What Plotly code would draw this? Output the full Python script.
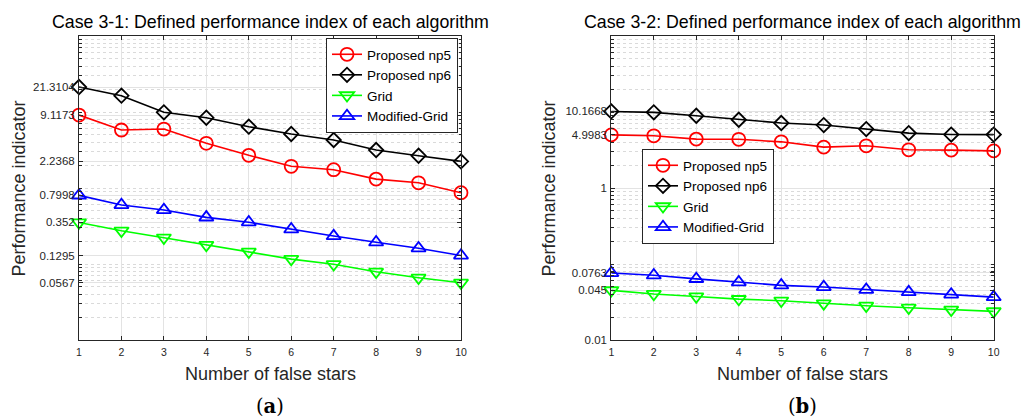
import plotly.graph_objects as go

x_stars = [1, 2, 3, 4, 5, 6, 7, 8, 9, 10]

# Case 3-1 (left)
a_np5 = [9.1173, 5.80, 5.97, 3.87, 2.69, 1.93, 1.74, 1.31, 1.17, 0.867]
a_np6 = [21.3104, 16.4, 9.9, 8.41, 6.41, 5.14, 4.28, 3.16, 2.66, 2.2368]
a_grid = [0.352, 0.274, 0.222, 0.178, 0.145, 0.116, 0.099, 0.079, 0.066, 0.0567]
a_mgrid = [0.7998, 0.597, 0.514, 0.411, 0.354, 0.286, 0.233, 0.193, 0.161, 0.1295]
a_ticks = [0.0567, 0.1295, 0.352, 0.7998, 2.2368, 9.1173, 21.3104]
a_ticktext = ["0.0567", "0.1295", "0.352", "0.7998", "2.2368", "9.1173", "21.3104"]

# Case 3-2 (right)
b_np5 = [4.9983, 4.86, 4.40, 4.37, 4.05, 3.45, 3.59, 3.18, 3.15, 3.08]
b_np6 = [10.1668, 9.9, 8.93, 7.91, 7.16, 6.73, 5.96, 5.28, 5.05, 5.04]
b_grid = [0.045, 0.0403, 0.0374, 0.0345, 0.0329, 0.0303, 0.0282, 0.0266, 0.0250, 0.0238]
b_mgrid = [0.0763, 0.0710, 0.0637, 0.0575, 0.0524, 0.0498, 0.0459, 0.0427, 0.0398, 0.0367]
b_ticks = [0.01, 0.045, 0.0763, 1, 4.9983, 10.1668]
b_ticktext = ["0.01", "0.045", "0.0763", "1", "4.9983", "10.1668"]

names = ["Proposed np5", "Proposed np6", "Grid", "Modified-Grid"]
colors = ["#ff0000", "#000000", "#00ff00", "#0000ff"]
symbols = ["circle-open", "diamond-open", "triangle-down-open", "triangle-up-open"]
sizes = [13, 11, 12.5, 12.5]

minor_vals = [m * 10 ** e for e in range(-2, 2) for m in range(1, 10) if not (m == 1 and e == -2)]

FONT = "Liberation Sans, Arial, sans-serif"
AX = "#262626"

W, H = 1024, 420


def PX(px):
    return px / W


def PY(py):
    return 1 - py / H


fig = go.Figure()

for i, (ya, yb) in enumerate(zip([a_np5, a_np6, a_grid, a_mgrid], [b_np5, b_np6, b_grid, b_mgrid])):
    for ys, xa, ya_ax, leg in [(ya, "x", "y", "legend"), (yb, "x2", "y2", "legend2")]:
        fig.add_trace(go.Scatter(
            x=x_stars, y=ys, xaxis=xa, yaxis=ya_ax, name=names[i], legend=leg,
            mode="lines+markers", cliponaxis=False,
            line=dict(color=colors[i], width=1.6),
            marker=dict(symbol=symbols[i], size=sizes[i], color=colors[i],
                        line=dict(color=colors[i], width=1.8)),
        ))


def xaxis_cfg(x0, x1, anchor):
    return dict(domain=[PX(x0), PX(x1)], anchor=anchor, range=[1, 10], tickvals=x_stars,
                ticks="inside", ticklen=4, tickcolor=AX, showline=True, linecolor=AX,
                linewidth=1, mirror="ticks", showgrid=True, gridcolor="#e3e3e3", gridwidth=1,
                zeroline=False, automargin=False, ticklabelstandoff=2,
                tickfont=dict(family=FONT, size=10.5, color=AX))


def yaxis_cfg(anchor, tv, tt):
    return dict(domain=[PY(340), PY(36)], anchor=anchor, type="log", range=[-2, 2],
                tickvals=tv, ticktext=tt, ticks="inside", ticklen=4, tickcolor=AX,
                showline=True, linecolor=AX, linewidth=1, mirror="ticks",
                showgrid=True, gridcolor="#e3e3e3", gridwidth=1, zeroline=False,
                automargin=False, ticklabelstandoff=1,
                tickfont=dict(family=FONT, size=11.5, color=AX),
                minor=dict(tickmode="array", tickvals=minor_vals, ticks="inside", ticklen=2.5,
                           tickcolor=AX, showgrid=True, gridcolor="#dadada",
                           griddash="dot", gridwidth=1))


def legend_cfg(lx, ty):
    return dict(x=PX(lx), y=PY(ty), xanchor="left", yanchor="top", bgcolor="white",
                bordercolor=AX, borderwidth=1, font=dict(family=FONT, size=13.5, color="#000"),
                tracegroupgap=0, itemwidth=30)


fig.update_layout(
    width=W, height=H, margin=dict(l=0, r=0, t=0, b=0, autoexpand=False),
    paper_bgcolor="white", plot_bgcolor="white",
    font=dict(family=FONT, color=AX),
    xaxis=xaxis_cfg(79, 461, "y"),
    yaxis=yaxis_cfg("x", a_ticks, a_ticktext),
    xaxis2=xaxis_cfg(611.3, 993.7, "y2"),
    yaxis2=yaxis_cfg("x2", b_ticks, b_ticktext),
    legend=legend_cfg(326, 38),
    legend2=legend_cfg(642, 149),
    showlegend=True,
)

annots = []
for cx, title, lab in [(270, "Case 3-1: Defined performance index of each algorithm", "a"),
                       (802.5, "Case 3-2: Defined performance index of each algorithm", "b")]:
    annots.append(dict(x=PX(cx), y=PY(22), xref="paper", yref="paper", text=title,
                       showarrow=False, font=dict(family=FONT, size=17.8, color="#000"),
                       xanchor="center", yanchor="middle"))
    annots.append(dict(x=PX(cx), y=PY(374), xref="paper", yref="paper", text="Number of false stars",
                       showarrow=False, font=dict(family=FONT, size=18, color=AX),
                       xanchor="center", yanchor="middle"))
    annots.append(dict(x=PX(cx), y=PY(406), xref="paper", yref="paper", text="(<b>" + lab + "</b>)",
                       showarrow=False, font=dict(family="DejaVu Serif, serif", size=19.5, color="#000"),
                       xanchor="center", yanchor="middle"))
for xpx in [18.5, 548.5]:
    annots.append(dict(x=PX(xpx), y=PY(189), xref="paper", yref="paper",
                       text="Performance indicator", textangle=-90, showarrow=False,
                       font=dict(family=FONT, size=18, color=AX), xanchor="center", yanchor="middle"))
fig.update_layout(annotations=annots)

fig.write_html("out.html", config={"displayModeBar": False},
               post_script="document.body.style.margin='0';document.body.style.overflow='hidden';")
